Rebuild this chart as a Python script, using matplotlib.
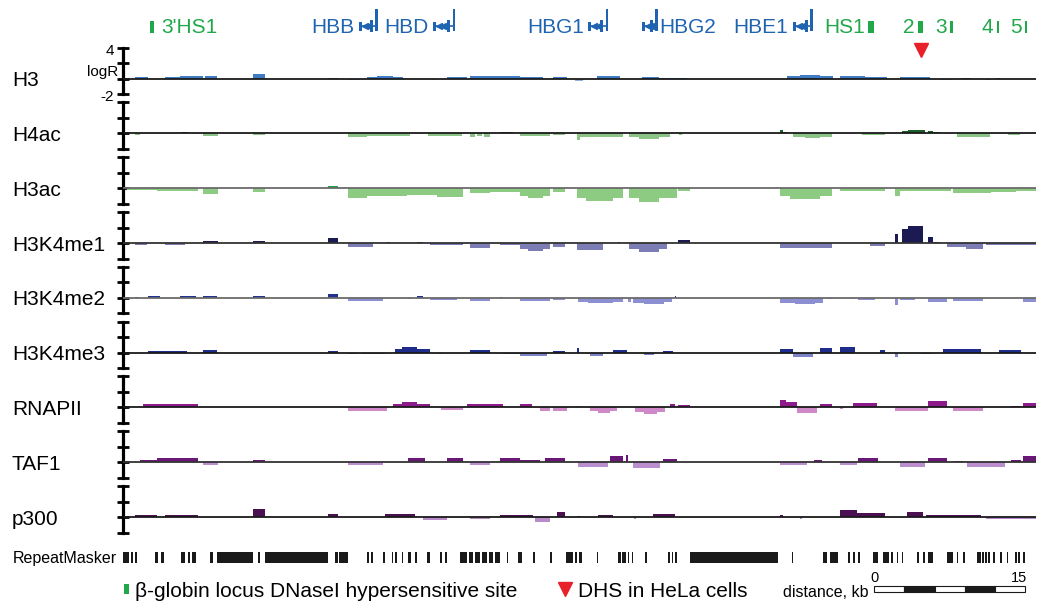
import matplotlib
matplotlib.use('Agg')
import matplotlib.pyplot as plt
from matplotlib.patches import Rectangle

plt.rcParams['font.family'] = ['Liberation Sans', 'DejaVu Sans']

#=====tracks: (start kb, end kb, logR) along the beta-globin locus
tracks = ['H3', 'H4ac', 'H3ac', 'H3K4me1', 'H3K4me2', 'H3K4me3', 'RNAPII', 'TAF1', 'p300']

h3 = [(1.0, 2.3, 0.2), (4.0, 5.5, 0.2), (5.5, 7.7, 0.3), (7.9, 9.1, 0.35),
      (12.7, 13.9, 0.55), (20.2, 21.2, 0.15), (22.1, 23.3, -0.15),
      (24.0, 25.0, 0.25), (25.0, 26.6, 0.4), (26.6, 27.6, 0.25), (30.6, 30.8, -0.2),
      (32.0, 34.0, 0.2), (34.3, 35.5, 0.3), (35.5, 37.0, 0.35), (37.0, 39.2, 0.3),
      (39.2, 41.5, 0.2), (42.5, 43.9, 0.2), (44.7, 45.5, -0.35), (46.9, 49.2, 0.35),
      (51.3, 53.0, 0.25), (53.0, 55.8, 0.15), (65.7, 67.0, 0.3), (67.0, 69.0, 0.45),
      (69.0, 70.3, 0.3), (71.0, 73.5, 0.3), (73.5, 75.7, 0.2), (77.0, 79.9, 0.2),
      (81.0, 82.0, -0.15), (83.0, 84.0, 0.15), (85.5, 86.0, -0.15), (86.5, 86.9, 0.15)]

h4ac = [(1.0, 1.5, -0.25), (5.7, 6.3, 0.15), (7.7, 9.2, -0.35), (12.7, 13.9, -0.2),
        (22.1, 24.0, -0.45), (24.0, 26.0, -0.35), (26.0, 28.3, -0.3), (30.1, 33.5, -0.3),
        (34.3, 34.8, -0.45), (35.0, 35.5, -0.3), (35.7, 36.2, -0.45), (37.2, 38.5, 0.2),
        (39.2, 42.2, -0.3), (42.5, 43.7, -0.2), (44.9, 45.2, -0.8), (45.2, 47.5, -0.5),
        (47.5, 49.5, -0.45), (50.1, 51.0, -0.45), (51.0, 53.0, -0.65), (53.0, 54.1, -0.45),
        (55.0, 55.3, -0.15), (65.0, 65.3, 0.45), (65.3, 65.7, 0.2), (65.7, 66.3, 0.1),
        (66.3, 67.5, -0.45), (67.5, 69.0, -0.6), (69.0, 70.2, -0.45), (73.2, 75.5, -0.2),
        (77.2, 77.8, 0.35), (77.8, 79.4, 0.5), (79.7, 80.2, 0.3), (80.2, 80.9, 0.15),
        (82.6, 85.9, -0.4), (87.7, 88.9, -0.25)]

h3ac = [(0.2, 3.2, -0.2), (3.2, 7.2, -0.35), (7.7, 9.2, -0.8), (12.7, 13.9, -0.45),
        (20.2, 21.2, 0.3), (22.1, 24.0, -1.25), (24.0, 28.0, -1.0), (28.0, 31.0, -0.9),
        (31.0, 33.6, -1.1), (34.3, 36.2, -0.6), (36.2, 39.2, -0.45), (39.2, 40.0, -1.0),
        (40.0, 41.5, -1.3), (41.5, 42.2, -1.0), (42.5, 43.7, -0.5), (44.9, 45.8, -1.2),
        (45.8, 48.5, -1.6), (48.5, 49.5, -1.2), (50.1, 51.0, -1.3), (51.0, 53.0, -1.75),
        (53.0, 54.8, -1.3), (54.9, 56.1, -0.3), (65.0, 66.0, -1.0), (66.0, 69.0, -1.35),
        (69.0, 70.2, -1.0), (71.0, 75.5, -0.3), (76.5, 77.0, -1.0), (77.0, 82.0, -0.4),
        (82.2, 86.0, -0.65), (86.0, 88.5, -0.5), (88.5, 90.5, -0.4)]

h3k4me1 = [(1.0, 2.2, -0.3), (4.0, 6.0, -0.3), (7.7, 9.2, 0.3), (12.7, 13.9, 0.25),
           (20.2, 21.2, 0.6), (22.1, 24.6, -0.5), (26.0, 26.3, 0.15), (29.0, 29.6, 0.15),
           (30.3, 33.6, -0.3), (34.3, 36.2, -0.6), (37.2, 39.2, -0.2), (39.2, 40.0, -0.7),
           (40.0, 41.5, -1.0), (41.5, 42.2, -0.7), (42.5, 43.7, -0.5), (44.9, 47.5, -0.9),
           (49.0, 49.2, 0.2), (50.1, 51.0, -0.8), (51.0, 53.0, -1.1), (53.0, 53.8, -0.8),
           (54.9, 56.1, 0.4), (65.0, 70.2, -0.6), (74.0, 75.5, -0.4), (76.5, 76.8, 1.2),
           (77.2, 77.8, 1.8), (77.8, 79.2, 2.2), (79.7, 80.2, 0.8), (80.2, 80.9, 0.2),
           (81.6, 83.5, -0.5), (83.5, 85.2, -0.8), (85.5, 90.5, -0.2)]

h3k4me2 = [(1.0, 1.3, 0.15), (2.3, 3.5, 0.3), (5.5, 7.0, 0.3), (7.7, 9.1, 0.2),
           (12.7, 13.9, 0.25), (20.2, 21.2, 0.5), (22.1, 25.6, -0.4), (28.0, 28.5, -0.2),
           (29.0, 29.6, 0.3), (30.3, 33.0, -0.3), (34.3, 36.2, -0.4), (37.2, 37.4, 0.15),
           (39.2, 42.2, -0.4), (42.5, 43.7, -0.3), (45.0, 46.0, -0.5), (46.0, 48.5, -0.7),
           (48.5, 49.5, -0.5), (50.0, 50.2, -0.5), (50.4, 51.5, -0.6), (51.5, 53.5, -0.85),
           (53.5, 54.3, -0.5), (54.6, 54.7, 0.2), (65.0, 66.5, -0.6), (66.5, 68.5, -0.85),
           (68.5, 69.3, -0.6), (69.6, 70.2, -0.2), (72.0, 72.2, -0.2), (72.8, 74.5, -0.3),
           (76.5, 76.8, -0.9), (77.0, 78.5, -0.3), (79.7, 81.6, -0.5), (82.2, 85.2, -0.4),
           (89.2, 90.5, -0.5)]

h3k4me3 = [(2.3, 6.2, 0.25), (7.7, 9.1, 0.3), (20.2, 21.2, 0.2), (22.1, 23.0, -0.2),
           (23.5, 25.8, -0.2), (26.8, 27.5, 0.5), (27.5, 29.0, 0.75), (29.0, 30.3, 0.5),
           (31.2, 31.4, -0.2), (34.3, 36.2, 0.3), (37.5, 39.2, -0.2), (39.2, 41.9, -0.4),
           (42.5, 43.7, 0.2), (44.9, 45.1, 0.6), (46.2, 47.5, -0.4), (48.5, 49.9, 0.4),
           (51.5, 52.5, -0.3), (53.4, 54.4, 0.2), (65.0, 66.3, 0.5), (66.3, 68.3, -0.5),
           (69.0, 70.2, 0.6), (71.0, 72.5, 0.7), (75.0, 75.5, 0.4), (76.5, 76.8, -0.5),
           (79.0, 80.0, -0.2), (81.2, 85.0, 0.5), (86.8, 89.0, 0.4)]

rnapii = [(1.8, 3.5, 0.4), (3.5, 5.5, 0.5), (5.5, 7.2, 0.4), (22.1, 26.0, -0.4),
          (26.6, 27.5, 0.4), (27.5, 29.0, 0.65), (29.0, 30.3, 0.4), (31.4, 33.6, -0.3),
          (34.0, 37.5, 0.5), (39.2, 40.4, 0.4), (41.2, 42.2, -0.4), (42.5, 43.9, -0.5),
          (44.9, 45.0, 0.15), (46.2, 47.0, -0.5), (47.0, 48.2, -0.75), (48.2, 48.9, -0.5),
          (50.6, 51.5, -0.6), (51.5, 52.8, -0.85), (52.8, 53.6, -0.6), (54.1, 54.6, 0.5),
          (54.9, 56.1, 0.3), (65.0, 65.6, 1.0), (65.6, 66.7, 0.7), (66.7, 68.7, -0.7),
          (69.0, 70.2, 0.5), (71.0, 71.3, -0.2), (72.3, 74.7, 0.6), (76.5, 79.7, -0.4),
          (79.7, 81.6, 0.8), (82.2, 85.2, -0.4), (88.0, 89.0, 0.2), (89.2, 90.5, 0.6)]

taf1 = [(1.5, 3.2, 0.3), (3.2, 7.2, 0.5), (7.7, 9.2, -0.35), (12.7, 13.9, 0.3),
        (22.1, 25.6, -0.3), (28.1, 29.8, 0.5), (32.0, 33.6, 0.5), (34.3, 36.2, -0.3),
        (37.2, 39.2, 0.6), (39.2, 41.2, 0.3), (41.7, 43.7, 0.5), (45.0, 48.0, -0.6),
        (48.2, 49.5, 0.8), (49.8, 50.0, 0.9), (50.4, 53.1, -0.7), (53.4, 54.8, 0.4),
        (65.0, 67.7, -0.4), (68.4, 69.2, 0.3), (71.0, 72.7, -0.3), (72.8, 74.8, 0.5),
        (77.0, 79.4, -0.6), (79.7, 81.6, 0.5), (82.2, 83.2, 0.2), (83.6, 87.4, -0.6),
        (88.0, 89.0, 0.3), (89.2, 90.5, 0.8)]

p300 = [(1.0, 3.2, 0.3), (4.0, 7.2, 0.2), (12.7, 13.9, 1.0), (20.2, 21.2, 0.4),
        (25.8, 28.8, 0.4), (29.6, 32.0, -0.4), (34.3, 36.2, -0.3), (37.2, 39.2, 0.2),
        (39.2, 40.5, 0.2), (40.7, 42.2, -0.6), (42.9, 43.7, 0.6), (45.0, 45.2, 0.1),
        (47.0, 48.5, 0.2), (50.5, 50.7, -0.2), (52.4, 54.6, 0.4), (65.0, 65.3, 0.2),
        (67.0, 67.2, -0.2), (71.0, 72.7, 0.9), (72.7, 75.5, 0.5), (77.7, 79.2, 0.7),
        (79.5, 85.0, 0.2), (85.5, 90.5, -0.2)]

track_data = [h3, h4ac, h3ac, h3k4me1, h3k4me2, h3k4me3, rnapii, taf1, p300]
pos_colors = ['#3f7cc4', '#1a5e2a', '#1fa34a', '#1c1a52', '#22328f', '#1f2d8a', '#8e1b8c', '#6a1877', '#4a1052']
neg_colors = ['#8db0dd', '#8cc386', '#8dcb82', '#7d7db5', '#8c8fd2', '#7c83c6', '#cf88c8', '#bb8ed0', '#b98bc9']
base_colors = ['#1a1a1a', '#1a1a1a', '#6b6b6b', '#333333', '#6b6b6b', '#1a1a1a', '#1a1a1a', '#333333', '#1a1a1a']

#=====annotations
genes = ['HBB', 'HBD', 'HBG1', 'HBG2', 'HBE1']
gene_start = [23.2, 30.6, 46.0, 51.3, 66.3]
gene_end = [25.1, 32.8, 48.0, 52.9, 68.3]
gene_label_side = ['left', 'left', 'left', 'right', 'left']

dhs_names = ["3'HS1", 'HS1', '2', '3', '4', '5']
dhs_pos = [2.7, 74.1, 79.0, 82.1, 86.7, 89.5]
dhs_width = [0.35, 0.6, 0.45, 0.25, 0.25, 0.25]
hela_dhs = [79.0]

repeats = [(-0.2, 0.4), (0.6, 0.8), (1.0, 1.2), (3.0, 3.3), (3.6, 3.9), (5.6, 6.0), (6.3, 6.5),
           (6.7, 7.0), (8.4, 8.7), (9.1, 12.7), (13.2, 13.4), (13.9, 20.2), (20.9, 21.2),
           (21.3, 22.1), (24.0, 24.2), (24.4, 24.6), (25.6, 25.8), (26.5, 26.6), (26.8, 27.0),
           (27.5, 27.6), (28.1, 28.4), (28.8, 29.0), (30.0, 30.3), (31.3, 31.5), (31.8, 32.0),
           (33.3, 34.0), (34.2, 34.6), (34.8, 35.3), (35.5, 35.9), (36.1, 36.5), (36.7, 37.2),
           (37.9, 38.0), (39.0, 39.4), (40.5, 40.7), (42.2, 42.4), (43.8, 44.5), (44.7, 44.9),
           (45.1, 45.4), (46.9, 47.0), (49.0, 49.3), (49.4, 49.8), (50.0, 50.1), (50.3, 50.4),
           (51.6, 51.8), (53.9, 54.1), (54.3, 54.4), (54.6, 54.8), (56.1, 64.8), (66.2, 66.3),
           (69.3, 69.7), (70.0, 70.8), (71.8, 72.0), (72.3, 72.5), (72.8, 73.0), (74.3, 74.8),
           (75.3, 75.9), (76.1, 76.3), (76.7, 76.8), (77.2, 77.3), (78.7, 78.9), (79.2, 79.4),
           (79.7, 80.2), (81.6, 82.2), (82.6, 82.7), (83.2, 83.4), (84.6, 85.0), (85.1, 85.3),
           (85.4, 85.6), (85.7, 85.9), (86.2, 86.4), (86.9, 87.1), (87.6, 87.7), (88.4, 88.6),
           (88.7, 88.9), (89.2, 89.4)]

scale_start = 74.4
scale_len = 15
scale_step = 3

gene_color = '#1f64b0'
dhs_color = '#21a84a'
red = '#e8202a'

#=====figure layout (pixels)
W, H = 1038, 603
fig = plt.figure(figsize=(W / 100, H / 100), dpi=100)
x0_px, x1_px = 123, 1036
xlim = (-0.2, 90.47)


def add_row(top_px, height_px):
    ax = fig.add_axes([x0_px / W, 1 - (top_px + height_px) / H, (x1_px - x0_px) / W, height_px / H])
    ax.set_xlim(*xlim)
    ax.patch.set_alpha(0)
    return ax


ymin, ymax = -2.52, 4.55
px_per_unit = 7.75
row_h = (ymax - ymin) * px_per_unit
base0 = 78.7

for i, (name, segs) in enumerate(zip(tracks, track_data)):
    base = base0 + i * row_h
    ax = add_row(base - ymax * px_per_unit, row_h)
    ax.set_ylim(ymin, ymax)
    starts = [s for s, e, v in segs]
    widths = [e - s for s, e, v in segs]
    vals = [v for s, e, v in segs]
    cols = [pos_colors[i] if v > 0 else neg_colors[i] for v in vals]
    ax.bar(starts, vals, width=widths, align='edge', color=cols, linewidth=0, zorder=2)
    ax.axhline(0, color=base_colors[i], lw=1.3, zorder=3)

    for side in ['top', 'right', 'bottom']:
        ax.spines[side].set_visible(False)
    ax.spines['left'].set_bounds(-2, 4)
    ax.spines['left'].set_linewidth(2.3)
    ax.set_yticks([-2, 0, 2, 4])
    ax.tick_params(axis='y', direction='inout', length=9, width=2, labelleft=False)
    ax.set_xticks([])

    # scale labels only on the first track
    if i == 0:
        ax.text(-1.1, 3.55, '4', ha='right', va='center', fontsize=11)
        ax.text(-0.7, 0.9, 'logR', ha='right', va='center', fontsize=11)
        ax.text(-1.1, -2.35, '-2', ha='right', va='center', fontsize=11)

    fig.text(12 / W, 1 - (base + 7.5) / H, name, fontsize=15, va='baseline')

#=====genes, DHS sites
ax_top = add_row(0, 60)
ax_top.set_ylim(60, 0)
ax_top.axis('off')

for name, s, e, side in zip(genes, gene_start, gene_end, gene_label_side):
    ax_top.hlines(26, s, e, color=gene_color, lw=1.2)
    ax_top.add_patch(Rectangle((s, 21.5), 0.3, 9, color=gene_color, lw=0))
    ax_top.plot([s + 0.6, s + 0.95], [26, 26], ls='none', marker='<', ms=4.5, color=gene_color)
    ax_top.add_patch(Rectangle((e - 0.8, 20), 0.3, 12, color=gene_color, lw=0))
    ax_top.add_patch(Rectangle((e - 0.25, 8.5), 0.25, 22.5, color=gene_color, lw=0))
    if side == 'left':
        ax_top.text(s - 0.45, 33, name, ha='right', va='baseline', fontsize=15, color=gene_color)
    else:
        ax_top.text(e + 0.2, 33, name, ha='left', va='baseline', fontsize=15, color=gene_color)

for name, p, w in zip(dhs_names, dhs_pos, dhs_width):
    ax_top.add_patch(Rectangle((p - w / 2, 20.5), w, 12, color=dhs_color, lw=0))
    if name == "3'HS1":
        ax_top.text(p + w / 2 + 0.7, 33, name, ha='left', va='baseline', fontsize=15, color=dhs_color)
    else:
        ax_top.text(p - w / 2 - 0.35, 33, name, ha='right', va='baseline', fontsize=15, color=dhs_color)

ax_top.plot(hela_dhs, [50] * len(hela_dhs), ls='none', marker='v', ms=10, color=red, clip_on=False)

#=====RepeatMasker + legend
ax_bot = add_row(540, 63)
ax_bot.set_ylim(603, 540)
ax_bot.axis('off')

ax_bot.bar([s for s, e in repeats], 11, width=[e - s for s, e in repeats], bottom=552,
           align='edge', color='#1a1a1a', linewidth=0)
fig.text(13 / W, 1 - 563 / H, 'RepeatMasker', fontsize=11.5, va='baseline')

ax_bot.add_patch(Rectangle((-0.1, 584), 0.45, 10, color=dhs_color, lw=0))
ax_bot.text(0.95, 597, 'β-globin locus DNaseI hypersensitive site', fontsize=15, va='baseline')
ax_bot.plot([43.7], [589], ls='none', marker='v', ms=10, color=red)
ax_bot.text(45.0, 597, 'DHS in HeLa cells', fontsize=15, va='baseline')

ax_bot.text(scale_start - 0.55, 597, 'distance, kb', fontsize=11.5, ha='right', va='baseline')
for k in range(scale_len // scale_step):
    ax_bot.add_patch(Rectangle((scale_start + k * scale_step, 586), scale_step, 5.5,
                               facecolor='#1a1a1a' if k % 2 else 'white',
                               edgecolor='#1a1a1a', lw=0.8))
ax_bot.text(scale_start, 582, '0', fontsize=10.5, ha='center', va='baseline')
ax_bot.text(scale_start + scale_len + 0.2, 582, str(scale_len), fontsize=10.5, ha='right', va='baseline')

fig.savefig('out.png', dpi=100)
